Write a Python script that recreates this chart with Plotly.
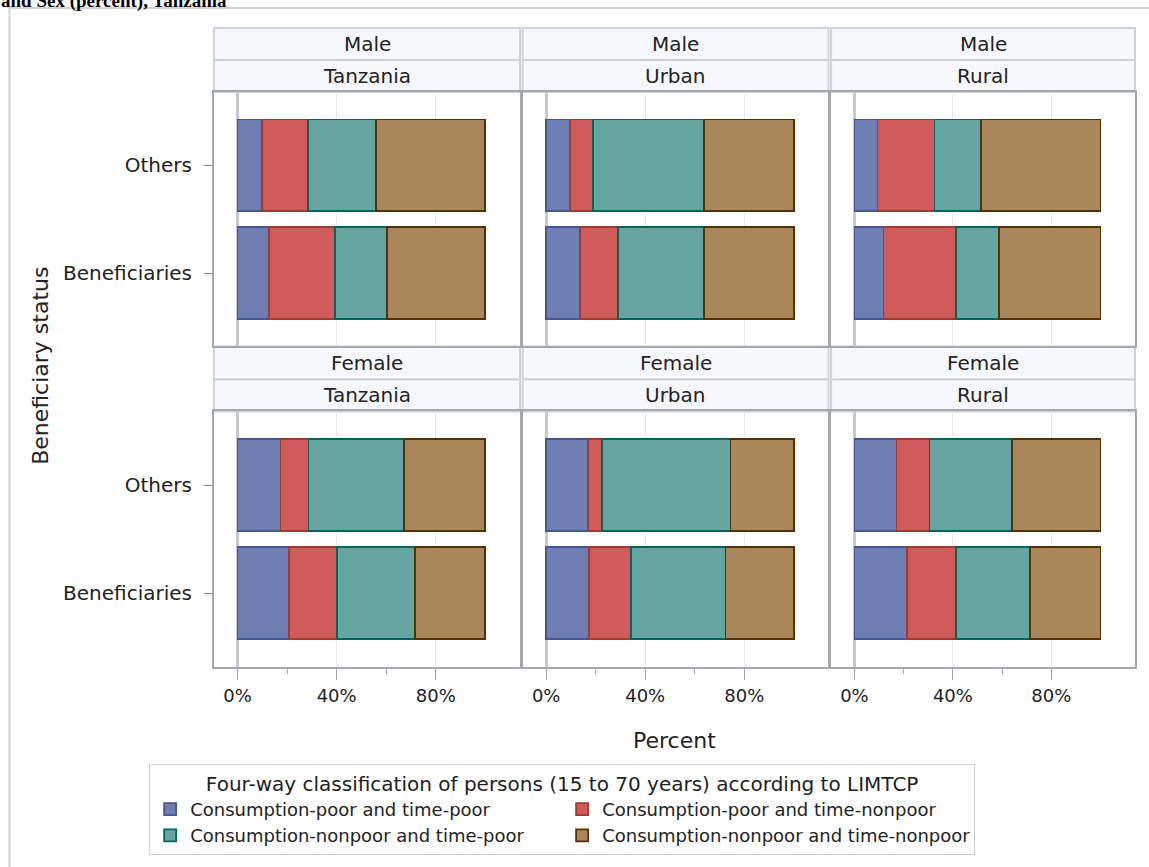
import plotly.graph_objects as go
from plotly.subplots import make_subplots

# rows of panels: sex, columns: area
sexes = ["Male", "Female"]
areas = ["Tanzania", "Urban", "Rural"]
status = ["Beneficiaries", "Others"]
tick_vals = [0, 40, 80]
tick_text = ["0%", "40%", "80%"]

classes = ["Consumption-poor and time-poor", "Consumption-poor and time-nonpoor",
           "Consumption-nonpoor and time-poor", "Consumption-nonpoor and time-nonpoor"]

# percent per panel (M-Tanzania, M-Urban, M-Rural, F-Tanzania, F-Urban, F-Rural),
# each pair is [Beneficiaries, Others]
cp_tp = [[12.6, 10.0], [13.7, 9.5], [11.8, 9.4], [20.9, 17.3], [17.3, 16.9], [21.3, 17.1]]
cp_tnp = [[26.8, 18.5], [15.3, 9.4], [29.4, 23.1], [19.1, 11.3], [16.8, 5.7], [19.9, 13.4]]
cnp_tp = [[21.0, 27.5], [34.6, 44.8], [17.4, 18.9], [31.5, 38.5], [38.3, 51.8], [30.2, 33.4]]
cnp_tnp = [[39.6, 44.0], [36.4, 36.3], [41.4, 48.6], [28.5, 32.9], [27.6, 25.6], [28.6, 36.1]]

series = [cp_tp, cp_tnp, cnp_tp, cnp_tnp]
fills = ["#6F7EB3", "#D05B5B", "#66A5A0", "#A9865B"]
lines = ["#445694", "#A23A2E", "#01665E", "#543005"]

FONT = "DejaVu Sans"
TXT = "#222222"
W, H = 1149, 867
ML, MR, MT, MB = 214, 12, 28, 199
PW = W - ML - MR
PH = H - MT - MB

def px_x(x):
    return (x - ML) / PW

def px_y(y):
    return (H - MB - y) / PH

fig = make_subplots(rows=2, cols=3)

for p in range(6):
    r = p // 3 + 1
    c = p % 3 + 1
    for k in range(4):
        fig.add_trace(go.Bar(
            x=series[k][p], y=status, orientation="h", name=classes[k],
            marker=dict(color=fills[k], line=dict(color=lines[k], width=1.8)),
            width=0.85, legendgroup=classes[k], showlegend=(p == 0)
        ), row=r, col=c)

xdoms = [[0, 0.3323], [0.3351, 0.6672], [0.6700, 1.0]]
ydoms = [[0.5016, 0.9], [0, 0.4]]

for p in range(6):
    r = p // 3
    c = p % 3
    n = "" if p == 0 else str(p + 1)
    bottom = r == 1
    fig.layout["xaxis" + n].update(
        domain=xdoms[c], range=[-9.5, 114], tickvals=tick_vals, ticktext=tick_text,
        showticklabels=bottom, ticks="outside" if bottom else "", ticklen=11,
        tickcolor="#A0A4A8", showline=True, mirror=True, linecolor="#A5A9AD", linewidth=2,
        showgrid=True, gridcolor="#E6E7E9", gridwidth=1,
        zeroline=True, zerolinecolor="#C6CACE", zerolinewidth=3,
        tickfont=dict(family=FONT, size=18, color=TXT),
        minor=dict(tickvals=[20, 60], ticks="outside" if bottom else "", ticklen=5,
                   tickcolor="#A0A4A8", showgrid=False),
        fixedrange=True)
    fig.layout["yaxis" + n].update(
        domain=ydoms[r], range=[-0.68, 1.68], type="category",
        showticklabels=(c == 0), ticks="outside" if c == 0 else "", ticklen=8,
        tickcolor="#808488", ticklabelstandoff=8,
        showline=True, mirror=True, linecolor="#A5A9AD", linewidth=2,
        showgrid=False, tickfont=dict(family=FONT, size=20, color=TXT),
        fixedrange=True)

shapes = []
annotations = []

# strips with panel headers
strip_px = [[(28, 60), (60, 92)], [(347, 380), (380, 412)]]
for r in range(2):
    for c in range(3):
        labels = [sexes[r], areas[c]]
        for s in range(2):
            y0, y1 = strip_px[r][s]
            shapes.append(dict(type="rect", xref="paper", yref="paper",
                               x0=xdoms[c][0], x1=xdoms[c][1], y0=px_y(y1), y1=px_y(y0),
                               fillcolor="#F7F8FD", line=dict(color="#CFD2D6", width=2),
                               layer="below"))
            annotations.append(dict(text=labels[s], xref="paper", yref="paper",
                                    x=(xdoms[c][0] + xdoms[c][1]) / 2, y=px_y((y0 + y1) / 2),
                                    showarrow=False, xanchor="center", yanchor="middle",
                                    font=dict(family=FONT, size=20, color=TXT)))

# outer frame
shapes.append(dict(type="rect", xref="paper", yref="paper",
                   x0=px_x(9), x1=px_x(1170), y0=px_y(900), y1=px_y(8),
                   line=dict(color="#D4D4D4", width=2), layer="below"))

annotations.append(dict(text="Beneficiary status", xref="paper", yref="paper",
                        x=px_x(40), y=px_y(366), textangle=-90, showarrow=False,
                        xanchor="center", yanchor="middle",
                        font=dict(family=FONT, size=22, color=TXT)))
annotations.append(dict(text="Percent", xref="paper", yref="paper",
                        x=0.5, y=px_y(742), showarrow=False,
                        xanchor="center", yanchor="middle",
                        font=dict(family=FONT, size=22, color=TXT)))
annotations.append(dict(text="<b>and Sex (percent), Tanzania</b>", xref="paper", yref="paper",
                        x=px_x(-1), y=px_y(14), showarrow=False,
                        xanchor="left", yanchor="bottom",
                        font=dict(family="Liberation Serif", size=19, color="#000000")))

fig.update_layout(
    width=W, height=H, barmode="stack",
    margin=dict(l=ML, r=MR, t=MT, b=MB),
    paper_bgcolor="white", plot_bgcolor="white",
    shapes=shapes, annotations=annotations,
    legend=dict(orientation="h", x=px_x(149), xanchor="left", y=px_y(765), yanchor="top",
                entrywidth=367, entrywidthmode="pixels", traceorder="normal",
                bordercolor="#CFCFCF", borderwidth=1, bgcolor="white",
                font=dict(family=FONT, size=18, color=TXT),
                title=dict(text="Four-way classification of persons (15 to 70 years) according to LIMTCP",
                           side="top center", font=dict(family=FONT, size=20, color=TXT))),
)

# page body has a default margin; drop it so the figure sits at the window corner
fig.write_html("out.html", config={"displayModeBar": False},
               post_script="document.body.style.margin='0px';")
